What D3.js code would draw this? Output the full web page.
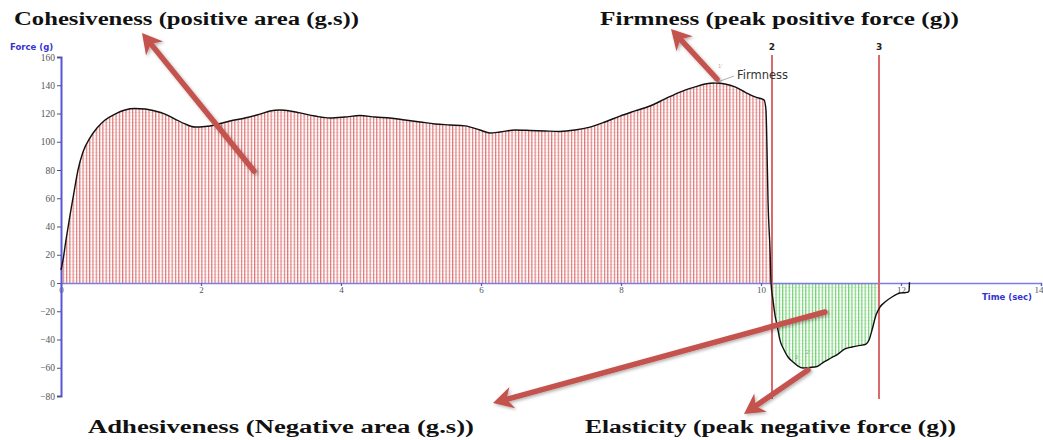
<!DOCTYPE html>
<html>
<head>
<meta charset="utf-8">
<script src="https://cdn.jsdelivr.net/npm/d3@7"></script>
<style>
  html, body { margin: 0; padding: 0; background: #fff; }
  svg { display: block; }
</style>
</head>
<body>
<svg id="chart" width="1043" height="440"></svg>
<script>
// Texture profile analysis: force (g) over time (sec)
const time = [0, 0.029, 0.071, 0.129, 0.186, 0.243, 0.314, 0.414, 0.514, 0.629, 0.771, 0.914,
  1.057, 1.2, 1.343, 1.486, 1.629, 1.771, 1.914, 2.057, 2.2, 2.414, 2.629, 2.843, 2.986,
  3.129, 3.271, 3.414, 3.629, 3.843, 4.057, 4.271, 4.486, 4.7, 4.914, 5.129, 5.343, 5.557,
  5.771, 5.986, 6.129, 6.271, 6.486, 6.7, 6.914, 7.129, 7.343, 7.557, 7.771, 7.986, 8.2,
  8.414, 8.629, 8.843, 9.057, 9.2, 9.343, 9.486, 9.629, 9.771, 9.914, 10.043, 10.071,
  10.086, 10.1, 10.129, 10.143, 10.171, 10.2, 10.229, 10.271, 10.329, 10.386, 10.457,
  10.529, 10.6, 10.7, 10.8, 10.9, 11.0, 11.1, 11.2, 11.3, 11.414, 11.5, 11.543, 11.586,
  11.643, 11.7, 11.771, 11.871, 11.986, 12.071, 12.1, 12.114, 12.121];
const force = [9.2, 16.3, 30.4, 48.1, 64.4, 80, 92.7, 102.7, 109.7, 115.4, 119.6, 122.5,
  123.5, 123.2, 121.8, 119.6, 116.1, 112.6, 110.4, 110.8, 111.9, 114.7, 116.8, 119.6, 121.8,
  122.5, 121.8, 120.4, 118.2, 116.8, 117.5, 118.6, 117.5, 116.8, 115.4, 114, 112.6, 111.9,
  111.2, 108.3, 106.2, 106.9, 108.3, 108, 107.6, 107.3, 108.3, 110.4, 114, 118.2, 121.8,
  125.3, 130.3, 135.2, 138.8, 140.9, 141.6, 140.9, 138.8, 135.2, 131.7, 129.6, 122.5,
  94.2, 58.8, 23.4, 0, -12, -22.7, -29.7, -40.4, -47.4, -52.4, -55.9,
  -58.8, -60.2, -59.8, -59.1, -55.9, -53.1, -50.3, -46.7, -45.3, -44.2, -43.2, -40.4, -33.3,
  -22.7, -17, -13.5, -9.9, -7.1, -6.7, -6.4, -5.8, 0.5];

const yTicks = [160, 140, 120, 100, 80, 60, 40, 20, 0, -20, -40, -60, -80];
const xTicks = [0, 2, 4, 6, 8, 10, 12, 14];

// Anchor lines marking the start and end of the adhesive (negative) phase
const anchorLabels = ["2", "3"];
const anchorTimes = [10.157, 11.686];

const peakTime = 9.343, peakForce = 141.6;
const troughTime = 10.6, troughForce = -60.2;

const headings = [
  "Cohesiveness (positive area (g.s))",
  "Firmness (peak positive force (g))",
  "Adhesiveness (Negative area (g.s))",
  "Elasticity (peak negative force (g))"
];

const svg = d3.select("#chart");
const x = d3.scaleLinear().domain([0, 14]).range([61, 1041]);
const y = d3.scaleLinear().domain([-80, 160]).range([396, 57]);

const pts = time.map((t, i) => ({ t, f: force[i] }));

// --- hatch patterns ---
const defs = svg.append("defs");
function hatch(id, lineColor, faintColor) {
  const p = defs.append("pattern").attr("id", id)
    .attr("patternUnits", "userSpaceOnUse").attr("width", 3.3).attr("height", 3.3);
  p.append("rect").attr("width", 3.3).attr("height", 3.3).attr("fill", "#fff");
  p.append("line").attr("x1", 0).attr("x2", 3.3).attr("y1", 0.5).attr("y2", 0.5)
    .attr("stroke", faintColor).attr("stroke-width", 0.8);
  p.append("line").attr("x1", 0.6).attr("x2", 0.6).attr("y1", 0).attr("y2", 3.3)
    .attr("stroke", lineColor).attr("stroke-width", 1.1);
}
hatch("redHatch", "#df6f6f", "#f4d8d8");
hatch("greenHatch", "#6bcf6b", "#d8f1d8");

const shadow = defs.append("filter").attr("id", "arrowShadow")
  .attr("x", "-20%").attr("y", "-20%").attr("width", "140%").attr("height", "140%");
shadow.append("feDropShadow").attr("dx", 1.5).attr("dy", 1.5).attr("stdDeviation", 1.5)
  .attr("flood-color", "#000").attr("flood-opacity", 0.3);

defs.append("clipPath").attr("id", "clipPos").append("rect")
  .attr("x", x(0)).attr("y", 0).attr("width", x(anchorTimes[0]) - x(0)).attr("height", y(0));
defs.append("clipPath").attr("id", "clipNeg").append("rect")
  .attr("x", x(anchorTimes[0])).attr("y", y(0))
  .attr("width", x(anchorTimes[1]) - x(anchorTimes[0])).attr("height", 200);

// --- filled areas ---
const areaPos = d3.area().curve(d3.curveMonotoneX)
  .x(d => x(d.t)).y0(y(0)).y1(d => y(Math.max(0, d.f)));
const areaNeg = d3.area().curve(d3.curveMonotoneX)
  .x(d => x(d.t)).y0(y(0)).y1(d => y(Math.min(0, d.f)));

svg.append("path").datum(pts).attr("d", areaPos)
  .attr("fill", "url(#redHatch)").attr("clip-path", "url(#clipPos)");
svg.append("path").datum(pts).attr("d", areaNeg)
  .attr("fill", "url(#greenHatch)").attr("clip-path", "url(#clipNeg)");

// --- axes ---
const axisBlue = "#5656d8";
const xAxisG = svg.append("g").attr("transform", `translate(0,${y(0)})`)
  .call(d3.axisBottom(x).tickValues(xTicks).tickSize(3).tickPadding(1));
xAxisG.select(".domain").attr("stroke", "#7b7be6").attr("stroke-width", 1.3);
xAxisG.selectAll(".tick line").attr("stroke", axisBlue).attr("stroke-width", 1.2);
xAxisG.selectAll(".tick text")
  .attr("font-family", "Liberation Serif, serif").attr("font-size", 9)
  .attr("fill", "#555");
// last label sits against the right edge
xAxisG.selectAll(".tick text").filter(d => d === 14).attr("text-anchor", "end").attr("dx", 2);

const yAxisG = svg.append("g").attr("transform", `translate(${x(0)},0)`)
  .call(d3.axisLeft(y).tickValues(yTicks).tickSize(4).tickPadding(2));
yAxisG.select(".domain").attr("stroke", axisBlue).attr("stroke-width", 2);
yAxisG.selectAll(".tick line").attr("stroke", "#555").attr("stroke-width", 1);
yAxisG.selectAll(".tick text")
  .attr("font-family", "Liberation Serif, serif").attr("font-size", 9.5)
  .attr("fill", "#555");

svg.append("text").attr("x", 10).attr("y", 50).text("Force (g)")
  .attr("font-family", "DejaVu Sans, sans-serif").attr("font-weight", "bold")
  .attr("font-size", 8.5).attr("fill", "#3434d0");
svg.append("text").attr("x", 982).attr("y", 300).text("Time (sec)")
  .attr("font-family", "DejaVu Sans, sans-serif").attr("font-weight", "bold")
  .attr("font-size", 8.5).attr("fill", "#3434d0");

// --- anchor lines ---
anchorTimes.forEach((t, i) => {
  svg.append("line").attr("x1", x(t)).attr("x2", x(t)).attr("y1", 55).attr("y2", 399)
    .attr("stroke", "#d86a6a").attr("stroke-width", 2);
  svg.append("text").attr("x", x(t)).attr("y", 50).attr("text-anchor", "middle")
    .text(anchorLabels[i])
    .attr("font-family", "DejaVu Sans, sans-serif").attr("font-weight", "bold")
    .attr("font-size", 9).attr("fill", "#222");
});

// --- force curve ---
const line = d3.line().curve(d3.curveMonotoneX).x(d => x(d.t)).y(d => y(d.f));
svg.append("path").datum(pts).attr("d", line)
  .attr("fill", "none").attr("stroke", "#111").attr("stroke-width", 1.4);

// --- peak / trough markers ---
const px = x(peakTime), py = y(peakForce);
svg.append("line").attr("x1", px).attr("y1", py).attr("x2", px + 19).attr("y2", py - 7)
  .attr("stroke", "#999").attr("stroke-width", 0.8);
svg.append("line").attr("x1", px).attr("y1", py).attr("x2", px - 1).attr("y2", py - 10)
  .attr("stroke", "#aaa").attr("stroke-width", 0.6).attr("stroke-dasharray", "1,1");
svg.append("text").attr("x", px + 3).attr("y", py - 15).text("1'")
  .attr("font-family", "DejaVu Sans, sans-serif").attr("font-size", 5).attr("fill", "#aaa");
svg.append("text").attr("x", px + 22).attr("y", py - 4).text("Firmness")
  .attr("font-family", "DejaVu Sans, sans-serif").attr("font-size", 11.5).attr("fill", "#333");

const tx = x(troughTime), ty = y(troughForce);
svg.append("text").attr("x", tx - 8).attr("y", ty - 9).text("2")
  .attr("font-family", "DejaVu Sans, sans-serif").attr("font-size", 5).attr("fill", "#999");
svg.append("text").attr("x", tx + 3).attr("y", ty - 14).text("2'")
  .attr("font-family", "DejaVu Sans, sans-serif").attr("font-size", 5).attr("fill", "#aaa");

// --- headings ---
const headingLayout = [
  { x: 14, y: 25, w: 345 },
  { x: 600, y: 25, w: 359 },
  { x: 88, y: 433, w: 386 },
  { x: 585, y: 433, w: 371 }
];
headings.forEach((h, i) => {
  const L = headingLayout[i];
  svg.append("text").attr("x", L.x).attr("y", L.y).text(h)
    .attr("font-family", "Liberation Serif, 'Times New Roman', serif")
    .attr("font-weight", "bold").attr("font-size", 18.5).attr("fill", "#111")
    .attr("textLength", L.w).attr("lengthAdjust", "spacingAndGlyphs");
});

// --- callout arrows ---
const arrowColor = "#c4524e";
const arrows = [
  { from: [254, 171], to: [142, 33] },
  { from: [717, 79], to: [671, 29] },
  { from: [825, 312], to: [493, 403] },
  { from: [808, 370], to: [744, 414] }
];
const arrowG = svg.append("g").attr("filter", "url(#arrowShadow)");
arrows.forEach(a => {
  const [x1, y1] = a.from, [x2, y2] = a.to;
  const ang = Math.atan2(y2 - y1, x2 - x1);
  const headLen = 20, headW = 11, notch = 6;
  const bx = x2 - headLen * Math.cos(ang), by = y2 - headLen * Math.sin(ang);
  const nx = x2 - (headLen - notch) * Math.cos(ang), ny = y2 - (headLen - notch) * Math.sin(ang);
  const perpX = -Math.sin(ang), perpY = Math.cos(ang);
  arrowG.append("line").attr("x1", x1).attr("y1", y1).attr("x2", nx).attr("y2", ny)
    .attr("stroke", arrowColor).attr("stroke-width", 5.5).attr("stroke-linecap", "round");
  arrowG.append("path")
    .attr("d", `M${x2},${y2} L${bx + perpX * headW},${by + perpY * headW} L${nx},${ny} L${bx - perpX * headW},${by - perpY * headW} Z`)
    .attr("fill", arrowColor);
});
</script>
</body>
</html>
